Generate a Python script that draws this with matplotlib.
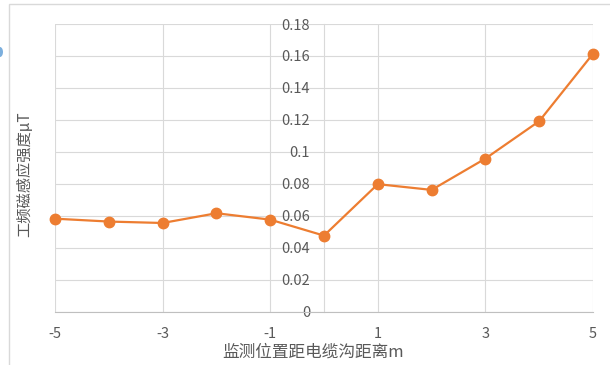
import matplotlib
matplotlib.use("Agg")
import matplotlib.pyplot as plt
from matplotlib.patches import Rectangle, Ellipse

plt.rcParams['font.family'] = ['Noto Sans CJK SC', 'DejaVu Sans']
plt.rcParams['axes.unicode_minus'] = False

distance = [-5, -4, -3, -2, -1, 0, 1, 2, 3, 4, 5]
field = [0.0582, 0.0564, 0.0555, 0.0616, 0.0576, 0.0476, 0.0798, 0.0762, 0.0958, 0.1192, 0.1614]
x_ticks = [-5, -3, -1, 1, 3, 5]
y_ticks = [0, 0.02, 0.04, 0.06, 0.08, 0.1, 0.12, 0.14, 0.16, 0.18]
y_labels = ['0', '0.02', '0.04', '0.06', '0.08', '0.1', '0.12', '0.14', '0.16', '0.18']
x_title = '监测位置距电缆沟距离m'
y_title = '工频磁感应强度μT'

W, H = 610, 365
fig = plt.figure(figsize=(W / 100, H / 100), dpi=100)
fig.patch.set_facecolor('white')

# chart border
fig.patches.append(Rectangle((9 / W, -0.1), 1.2, 1.1 - 4 / H, transform=fig.transFigure,
                             fill=False, edgecolor='#D9D9D9', linewidth=1.0))
# small blue artefact at left edge
fig.patches.append(Ellipse((0 / W, 1 - 52 / H), 6 / W, 10 / H, transform=fig.transFigure,
                           facecolor='#5B9BD5', edgecolor='none', alpha=0.8))

ax = fig.add_axes([55 / W, 1 - 311.7 / H, (593 - 55) / W, (311.7 - 24) / H])
ax.set_xlim(-5, 5)
ax.set_ylim(0, 0.18)

grid_c = '#D9D9D9'
ax.set_xticks(x_ticks)
ax.set_yticks(y_ticks)
ax.set_yticklabels(y_labels)
ax.grid(True, color=grid_c, linewidth=0.8, zorder=0)
ax.set_axisbelow(True)

for s in ['top', 'right']:
    ax.spines[s].set_visible(False)
ax.spines['left'].set_position(('data', 0))
ax.spines['left'].set_color(grid_c)
ax.spines['left'].set_linewidth(0.8)
ax.spines['bottom'].set_color('#BFBFBF')
ax.spines['bottom'].set_linewidth(0.8)

ax.tick_params(axis='y', length=0, pad=10, labelsize=10.5, labelcolor='#595959')
ax.tick_params(axis='x', length=0, pad=11, labelsize=10.5, labelcolor='#595959')

ax.plot(distance, field, color='#ED7D31', linewidth=1.6, marker='o',
        markersize=7.5, markerfacecolor='#ED7D31', markeredgecolor='#ED7D31',
        zorder=3, clip_on=False)

fig.text(313.5 / W, 1 - 352 / H, x_title, ha='center', va='center',
         fontsize=12, color='#595959')
fig.text(25 / W, 1 - 174 / H, y_title, ha='center', va='center',
         rotation=90, fontsize=11, color='#595959')

fig.savefig('out.png', dpi=100)
